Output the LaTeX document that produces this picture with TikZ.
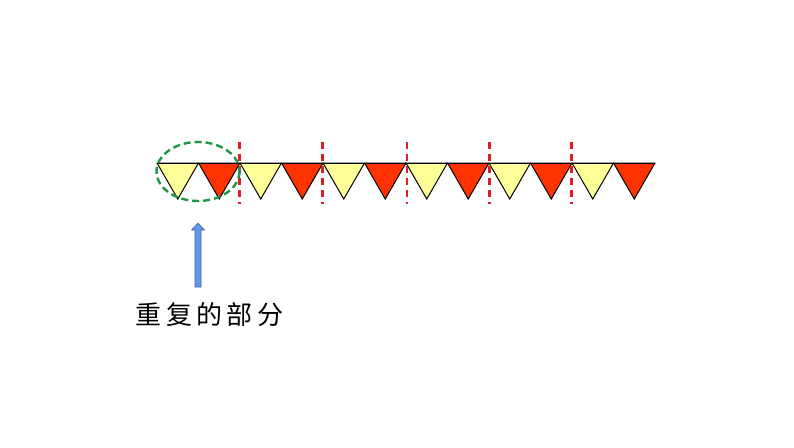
\documentclass[tikz,border=0pt]{standalone}
\usepackage{fontspec}
\newfontfamily\cjk[LetterSpace=17]{Noto Sans CJK SC}
\definecolor{flagyellow}{RGB}{255,255,153}
\definecolor{flagred}{RGB}{255,51,0}
\definecolor{cutred}{RGB}{220,30,40}
\definecolor{ringgreen}{RGB}{30,150,70}
\definecolor{arrowblue}{RGB}{100,150,225}
\definecolor{arrowedge}{RGB}{60,100,180}
\begin{document}
\begin{tikzpicture}[x=1pt,y=-1pt,
  flag/.style={draw=black,line width=1pt,line join=miter},
  cutline/.style={draw=cutred,line width=2.4pt,dash pattern=on 7pt off 5pt},
  ring/.style={draw=ringgreen,line width=2.4pt,dash pattern=on 7pt off 4pt},
  label/.style={font=\cjk\fontsize{26}{26}\selectfont,inner sep=0pt}]
\useasboundingbox (0,0) rectangle (794,447);
\fill[white] (0,0) rectangle (794,447);
% flags
\foreach \i in {0,...,11}{
  \pgfmathsetmacro{\xl}{157+41.5*\i}
  \pgfmathsetmacro{\xr}{157+41.5*(\i+1)}
  \pgfmathsetmacro{\xm}{157+41.5*(\i+0.5)}
  \pgfmathparse{mod(\i,2)==0?1:0}
  \ifnum\pgfmathresult=1
    \filldraw[flag,fill=flagyellow] (\xl,163) -- (\xr,163) -- (\xm,199) -- cycle;
  \else
    \filldraw[flag,fill=flagred] (\xl,163) -- (\xr,163) -- (\xm,199) -- cycle;
  \fi
}
\draw[line width=1pt] (157,163) -- (655,163);
% dashed cut lines
\foreach \x in {239.5,322.3,406.8,489.3,571.5}{
  \draw[cutline] (\x,142) -- (\x,204);
}
% green ellipse
\draw[ring] (198,171.5) ellipse [x radius=41.5, y radius=29.5];
% blue arrow
\filldraw[fill=arrowblue,draw=arrowedge,line width=0.6pt]
  (195,287) -- (195,230) -- (191.5,230) -- (198,223) -- (204.5,230) -- (201,230) -- (201,287) -- cycle;
% label
\node[label,anchor=west] (lbl) at (135.5,314.5) {重复的部分};
\end{tikzpicture}
\end{document}
